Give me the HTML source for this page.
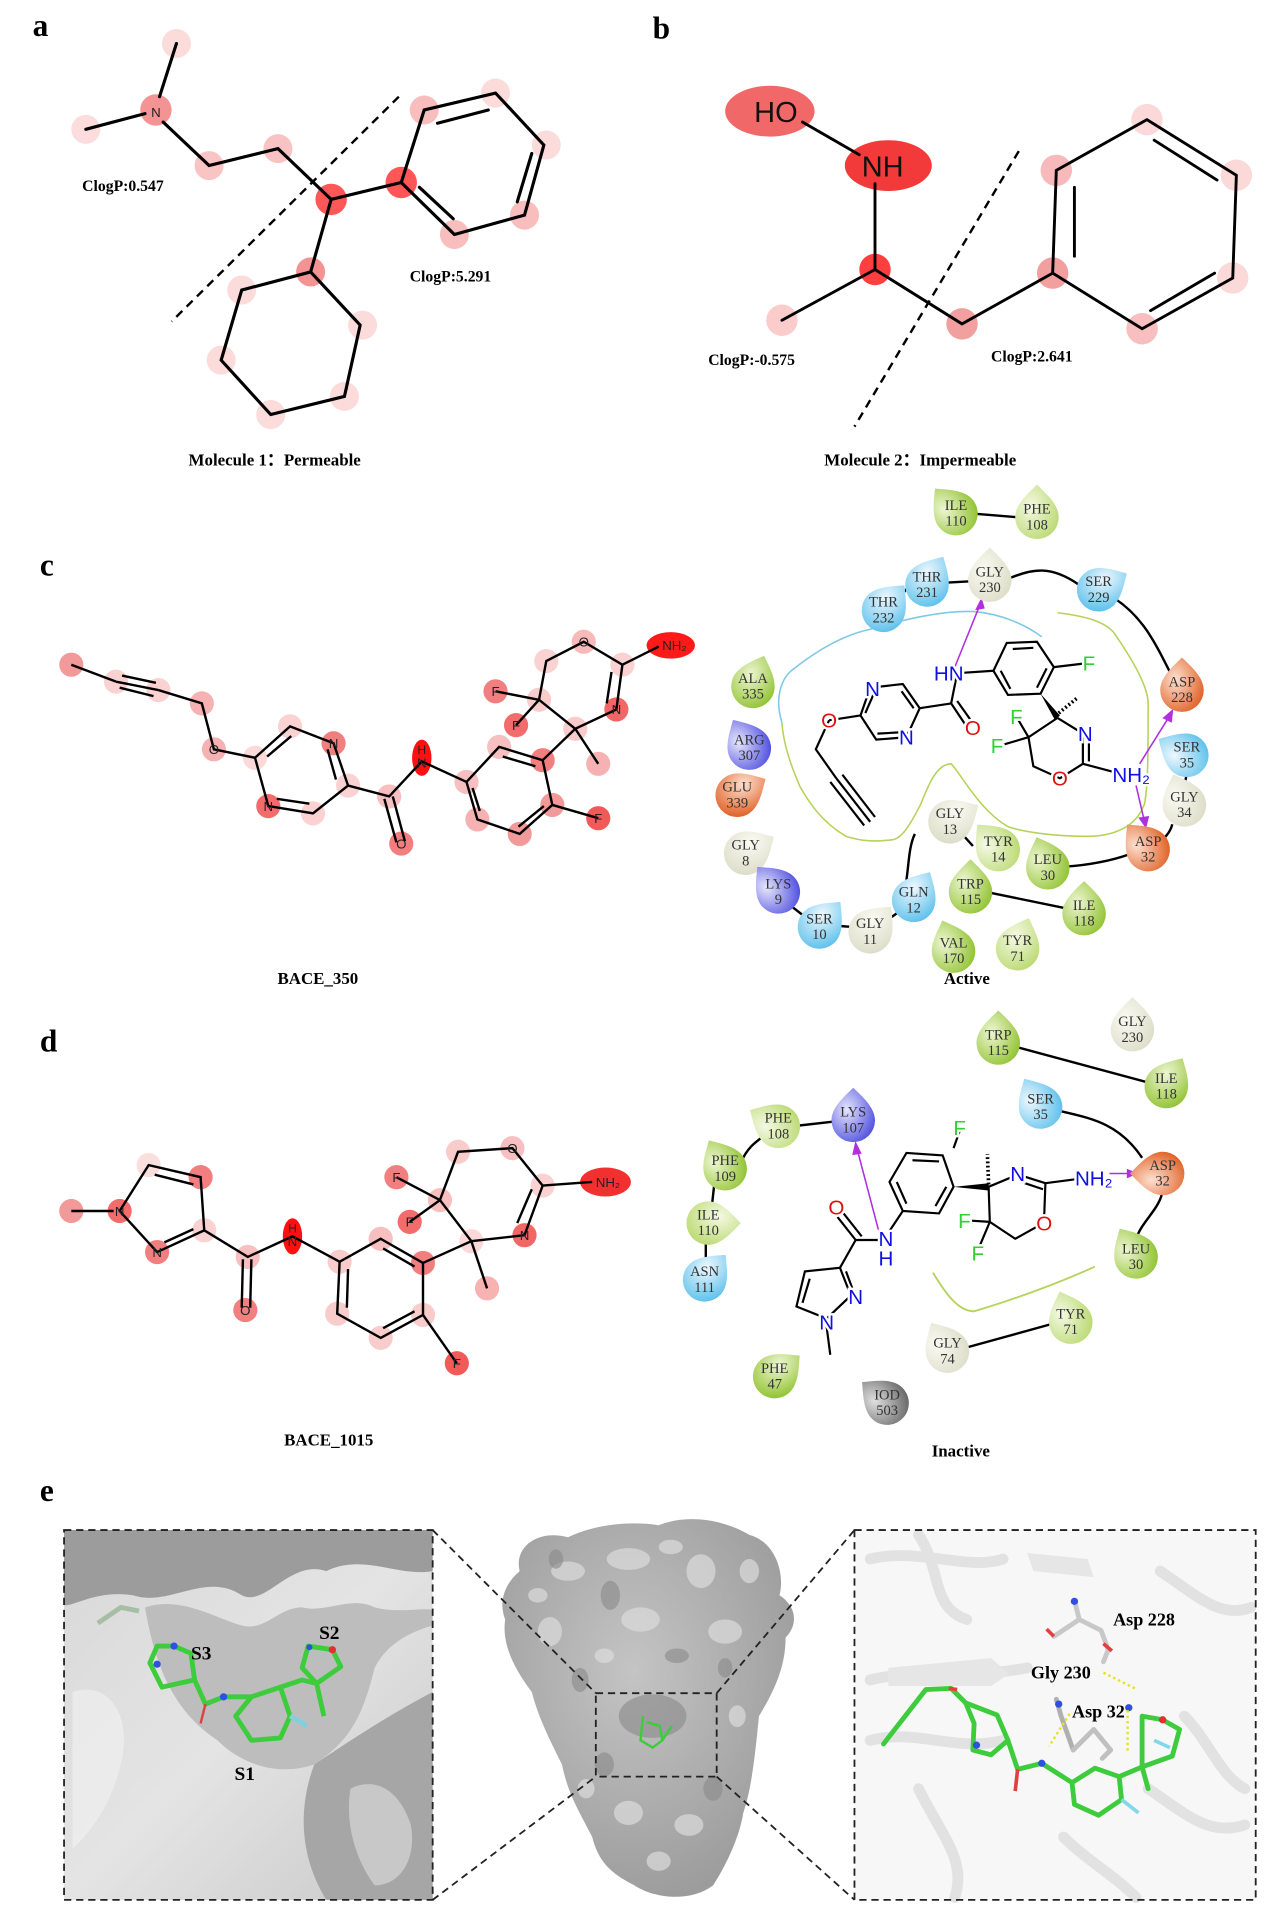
<!DOCTYPE html>
<html><head><meta charset="utf-8"><style>
html,body{margin:0;padding:0;background:#fff}
svg{display:block}
.lb{font-family:"Liberation Serif",serif;font-weight:bold;fill:#000}
.rs{font-family:"Liberation Serif",serif;font-size:12px;fill:#333;text-anchor:middle}
.at{font-family:"Liberation Sans",sans-serif;font-size:11px;fill:#222;text-anchor:middle}
.lg{font-family:"Liberation Sans",sans-serif;font-size:17px;text-anchor:middle;paint-order:stroke;stroke:#fff;stroke-width:4px}
</style></head><body>
<svg width="1269" height="1918" viewBox="0 0 1050 1587" preserveAspectRatio="none" xmlns="http://www.w3.org/2000/svg">
<defs>
<path id="td" d="M0,-27 C7,-20 18,-11 18,0 A18,18 0 1 1 -18,0 C-18,-11 -7,-20 0,-27Z"/>
<radialGradient id="gG" cx="0.35" cy="0.4" r="0.75"><stop offset="0" stop-color="#eef6d2"/><stop offset="1" stop-color="#8cc02a"/></radialGradient>
<radialGradient id="gL" cx="0.35" cy="0.4" r="0.75"><stop offset="0" stop-color="#f4f9e4"/><stop offset="1" stop-color="#b8d86c"/></radialGradient>
<radialGradient id="gW" cx="0.35" cy="0.4" r="0.75"><stop offset="0" stop-color="#fafaf2"/><stop offset="1" stop-color="#dadcc6"/></radialGradient>
<radialGradient id="gB" cx="0.35" cy="0.4" r="0.75"><stop offset="0" stop-color="#eef8fe"/><stop offset="1" stop-color="#55bdea"/></radialGradient>
<radialGradient id="gO" cx="0.35" cy="0.4" r="0.75"><stop offset="0" stop-color="#fde0d0"/><stop offset="1" stop-color="#de5a1c"/></radialGradient>
<radialGradient id="gP" cx="0.35" cy="0.4" r="0.75"><stop offset="0" stop-color="#e6e6fc"/><stop offset="1" stop-color="#4848de"/></radialGradient>
<radialGradient id="gK" cx="0.35" cy="0.4" r="0.75"><stop offset="0" stop-color="#e0e0e0"/><stop offset="1" stop-color="#606060"/></radialGradient>
<linearGradient id="lbox" x1="0" y1="0" x2="1" y2="1"><stop offset="0" stop-color="#d8d8d8"/><stop offset="0.5" stop-color="#e4e4e4"/><stop offset="1" stop-color="#c8c8c8"/></linearGradient>
<radialGradient id="blob" cx="0.45" cy="0.4" r="0.7"><stop offset="0" stop-color="#c4c4c4"/><stop offset="1" stop-color="#979797"/></radialGradient>
</defs>

<!-- ========== Panel a ========== -->
<text class="lb" x="27" y="30" font-size="26">a</text>
<g fill="#f4a0a0" opacity="0.75">
<circle cx="146" cy="36" r="12" fill="#fbd0d0"/><circle cx="71" cy="107" r="12" fill="#fbd0d0"/>
<circle cx="129" cy="91" r="13" fill="#f07070"/><circle cx="173" cy="137" r="12" fill="#f7b0b0"/>
<circle cx="230" cy="123" r="12" fill="#f7b0b0"/><circle cx="274" cy="165" r="13" fill="#ff2020"/>
<circle cx="332" cy="151" r="13" fill="#ff2020"/><circle cx="351" cy="91" r="12" fill="#f6a8a8"/>
<circle cx="410" cy="77" r="12" fill="#fbd0d0"/><circle cx="452" cy="120" r="12" fill="#fbd0d0"/>
<circle cx="434" cy="178" r="12" fill="#f6a8a8"/><circle cx="376" cy="194" r="12" fill="#f6a8a8"/>
<circle cx="257" cy="225" r="12" fill="#f07070"/><circle cx="200" cy="240" r="12" fill="#fbd0d0"/>
<circle cx="183" cy="298" r="12" fill="#fbd0d0"/><circle cx="224" cy="343" r="12" fill="#fbd0d0"/>
<circle cx="285" cy="328" r="12" fill="#fbd0d0"/><circle cx="300" cy="269" r="12" fill="#fbd0d0"/>
</g>
<g stroke="#000" stroke-width="2.6" fill="none" stroke-linecap="round">
<line x1="146" y1="36" x2="132" y2="80"/><line x1="71" y1="107" x2="120" y2="94"/>
<polyline points="135,101 173,137 230,123 274,165 332,151"/>
<polygon points="332,151 351,91 410,77 450,120 434,178 376,194"/>
<line x1="362" y1="102" x2="404" y2="91"/><line x1="440" y1="127" x2="428" y2="167"/><line x1="375" y1="181" x2="347" y2="155"/>
<line x1="274" y1="165" x2="257" y2="225"/>
<polygon points="257,225 200,240 183,298 224,343 285,328 298,269"/>
</g>
<text x="129" y="97" class="at" font-size="17">N</text>
<line x1="330" y1="80" x2="142" y2="266" stroke="#000" stroke-width="2" stroke-dasharray="7,5"/>
<text class="lb" x="68" y="158" font-size="13">ClogP:0.547</text>
<text class="lb" x="339" y="233" font-size="13">ClogP:5.291</text>
<text class="lb" x="156" y="385" font-size="14">Molecule 1：Permeable</text>

<!-- ========== Panel b ========== -->
<text class="lb" x="540" y="32" font-size="26">b</text>
<ellipse cx="637" cy="92" rx="37" ry="21" fill="#f06868"/>
<ellipse cx="735" cy="137" rx="36" ry="21" fill="#f23a3a"/>
<g opacity="0.8">
<circle cx="724" cy="223" r="13" fill="#ff1010"/><circle cx="647" cy="265" r="13" fill="#f9c0c0"/>
<circle cx="796" cy="268" r="13" fill="#f08888"/><circle cx="871" cy="226" r="13" fill="#f08888"/>
<circle cx="874" cy="141" r="13" fill="#f6a8a8"/><circle cx="949" cy="99" r="13" fill="#fbd0d0"/>
<circle cx="1023" cy="145" r="13" fill="#fbd0d0"/><circle cx="1020" cy="230" r="13" fill="#fbd0d0"/>
<circle cx="945" cy="272" r="13" fill="#f6b0b0"/>
</g>
<g stroke="#000" stroke-width="2.4" fill="none" stroke-linecap="round">
<line x1="664" y1="101" x2="711" y2="128"/>
<line x1="724" y1="152" x2="724" y2="223"/>
<polyline points="647,265 724,223 796,268 871,226"/>
<polygon points="871,226 874,141 949,99 1023,145 1020,230 945,272"/>
<line x1="889" y1="155" x2="889" y2="212"/><line x1="955" y1="116" x2="1007" y2="149"/><line x1="1005" y1="226" x2="952" y2="257"/>
</g>
<text x="624" y="101" font-family="Liberation Sans,sans-serif" font-size="24" fill="#111">HO</text>
<text x="713" y="146" font-family="Liberation Sans,sans-serif" font-size="24" fill="#111">NH</text>
<line x1="843" y1="125" x2="707" y2="353" stroke="#000" stroke-width="2" stroke-dasharray="7,5"/>
<text class="lb" x="586" y="302" font-size="13">ClogP:-0.575</text>
<text class="lb" x="820" y="299" font-size="13">ClogP:2.641</text>
<text class="lb" x="682" y="385" font-size="14">Molecule 2：Impermeable</text>

<!-- ========== Panel c left ========== -->
<text class="lb" x="33" y="476" font-size="26">c</text>
<g opacity="0.8">
<circle cx="59" cy="550" r="10" fill="#f08080"/><circle cx="96" cy="564" r="10" fill="#fbc8c8"/>
<circle cx="131" cy="571" r="10" fill="#fbc8c8"/><circle cx="167" cy="582" r="10" fill="#f4a0a0"/>
<circle cx="177" cy="620" r="10" fill="#f4a0a0"/><circle cx="211" cy="627" r="10" fill="#fbd0d0"/>
<circle cx="240" cy="601" r="10" fill="#fbc8c8"/><circle cx="276" cy="615" r="10" fill="#f06060"/>
<circle cx="288" cy="650" r="10" fill="#fbc8c8"/><circle cx="259" cy="673" r="10" fill="#fbc8c8"/>
<circle cx="222" cy="667" r="10" fill="#f04848"/><circle cx="322" cy="659" r="10" fill="#f6b0b0"/>
<circle cx="332" cy="698" r="10" fill="#f06060"/>
<circle cx="386" cy="647" r="10" fill="#f6b0b0"/><circle cx="413" cy="618" r="10" fill="#f6b0b0"/>
<circle cx="449" cy="629" r="10" fill="#f06060"/><circle cx="457" cy="666" r="10" fill="#f08080"/>
<circle cx="430" cy="690" r="10" fill="#f08080"/><circle cx="395" cy="678" r="10" fill="#f4a0a0"/>
<circle cx="495" cy="677" r="10" fill="#f03030"/><circle cx="476" cy="603" r="10" fill="#f8c0c0"/>
<circle cx="495" cy="632" r="10" fill="#f4a0a0"/><circle cx="510" cy="587" r="10" fill="#f04040"/>
<circle cx="515" cy="550" r="10" fill="#fbc8c8"/><circle cx="483" cy="531" r="10" fill="#f6a8a8"/>
<circle cx="452" cy="547" r="10" fill="#fbc8c8"/><circle cx="446" cy="579" r="10" fill="#f8c0c0"/>
<circle cx="410" cy="572" r="10" fill="#f06060"/><circle cx="427" cy="600" r="10" fill="#f04848"/>
</g>
<ellipse cx="349" cy="627" rx="8" ry="15" fill="#ff1010"/>
<ellipse cx="555" cy="534" rx="20" ry="11" fill="#ff1a1a"/>
<g stroke="#000" stroke-width="2" fill="none">
<line x1="59" y1="550" x2="96" y2="564"/><line x1="96" y1="564" x2="131" y2="571"/>
<line x1="101" y1="559" x2="129" y2="565"/><line x1="99" y1="569" x2="127" y2="576"/>
<polyline points="131,571 167,582 177,620 211,627"/>
<polygon points="211,627 240,601 276,615 288,650 259,673 222,667"/>
<line x1="221" y1="626" x2="241" y2="609"/><line x1="271" y1="620" x2="278" y2="645"/><line x1="256" y1="665" x2="229" y2="661"/>
<polyline points="288,650 322,659 349,630 386,647"/>
<line x1="318" y1="661" x2="328" y2="697"/><line x1="325" y1="659" x2="335" y2="696"/>
<polygon points="386,647 413,618 449,629 457,666 430,690 395,678"/>
<line x1="416" y1="626" x2="443" y2="634"/><line x1="450" y1="667" x2="429" y2="684"/><line x1="397" y1="671" x2="391" y2="652"/>
<line x1="457" y1="666" x2="495" y2="677"/>
<polyline points="449,629 476,603 510,587 515,550 483,531 452,547 446,579 476,603 495,632"/>
<line x1="506" y1="556" x2="502" y2="582"/>
<line x1="515" y1="550" x2="545" y2="535"/>
<line x1="446" y1="579" x2="410" y2="572"/><line x1="446" y1="579" x2="427" y2="600"/>
</g>
<g class="at"><text x="177" y="624">O</text><text x="276" y="619">N</text><text x="222" y="671">N</text><text x="332" y="702">O</text>
<text x="349" y="624" font-size="10">H</text><text x="349" y="635">N</text><text x="495" y="681">F</text><text x="510" y="591">N</text>
<text x="483" y="535">O</text><text x="410" y="576">F</text><text x="427" y="604">F</text><text x="558" y="538">NH₂</text></g>
<text class="lb" x="263" y="814" font-size="14" text-anchor="middle">BACE_350</text>

<!-- ========== Panel c right ========== -->
<path d="M647,598 C640,575 648,560 656,554 C680,535 700,525 719,521 C750,512 780,505 806,506 C830,508 850,518 862,527" fill="none" stroke="#7fc8e8" stroke-width="1.3"/>
<path d="M875,507 C900,510 915,515 922,524 C940,550 950,570 950,582 C950,620 950,650 947,665 C940,685 920,692 900,692 C870,692 845,688 834,684 C810,670 795,640 787,632 C775,632 768,650 762,665 C752,685 745,695 737,695 C720,697 710,695 700,692 C680,680 670,665 662,651 C655,635 648,615 647,598" fill="none" stroke="#b5d35a" stroke-width="1.3"/>
<g stroke="#000" stroke-width="2" fill="none">
<line x1="806" y1="425" x2="842" y2="428"/>
<line x1="740" y1="500" x2="752" y2="485"/><line x1="784" y1="482" x2="803" y2="481"/>
<path d="M834,479 C855,470 870,468 893,484"/>
<path d="M922,495 C945,510 955,530 970,560"/>
<line x1="982" y1="640" x2="980" y2="650"/>
<path d="M970,682 C968,690 962,695 958,697"/>
<path d="M882,717 C900,716 920,712 934,707"/>
<line x1="625" y1="716" x2="634" y2="724"/><line x1="655" y1="750" x2="664" y2="757"/>
<line x1="692" y1="766" x2="705" y2="767"/><line x1="736" y1="760" x2="743" y2="755"/>
<path d="M750,728 C752,715 752,700 757,690"/><line x1="796" y1="690" x2="805" y2="700"/>
<line x1="816" y1="738" x2="884" y2="752"/>
</g>
<g stroke="#b030e0" stroke-width="1.3" fill="#b030e0">
<line x1="790" y1="552" x2="811" y2="500"/><polygon points="812,496 808,504 814,503"/>
<line x1="943" y1="632" x2="968" y2="592"/><polygon points="970,588 963,594 969,597"/>
<line x1="940" y1="650" x2="947" y2="680"/><polygon points="948,684 943,677 950,676"/>
</g>
<g stroke="#000" stroke-width="1.8" fill="none">
<polygon points="720,569 747,566 761,586 750,610 725,612 712,592"/>
<line x1="746" y1="572" x2="756" y2="586"/><line x1="744" y1="606" x2="726" y2="607"/><line x1="716" y1="590" x2="723" y2="574"/>
<line x1="712" y1="592" x2="686" y2="596"/><polyline points="686,596 675,620 692,644"/>
<line x1="692" y1="644" x2="720" y2="680"/><line x1="697" y1="641" x2="724" y2="676"/><line x1="687" y1="647" x2="715" y2="683"/>
<line x1="761" y1="586" x2="787" y2="582"/><line x1="787" y1="582" x2="799" y2="600"/><line x1="792" y1="580" x2="804" y2="597"/>
<line x1="787" y1="582" x2="792" y2="557"/><line x1="792" y1="557" x2="822" y2="555"/>
<polygon points="822,555 833,532 858,531 872,552 861,574 834,575"/>
<line x1="838" y1="537" x2="855" y2="536"/><line x1="866" y1="553" x2="858" y2="569"/><line x1="828" y1="555" x2="836" y2="570"/>
<line x1="872" y1="552" x2="897" y2="549"/>
<line x1="875" y1="594" x2="896" y2="607"/><line x1="896" y1="607" x2="896" y2="632"/><line x1="901" y1="610" x2="901" y2="630"/>
<line x1="896" y1="632" x2="930" y2="641"/><polyline points="896,632 877,644 855,634 851,610 875,594"/>
<line x1="851" y1="610" x2="841" y2="593"/><line x1="851" y1="610" x2="827" y2="617"/>
<line x1="876" y1="590" x2="892" y2="577" stroke-dasharray="1.5,2" stroke-width="3"/>
</g>
<polygon points="861,574 877,592 873,596" fill="#000"/>
<g class="lg"><text x="722" y="576" fill="#1010e0">N</text><text x="750" y="616" fill="#1010e0">N</text>
<text x="686" y="602" fill="#e01010">O</text><text x="805" y="608" fill="#e01010">O</text>
<text x="785" y="563" fill="#1010e0">HN</text><text x="901" y="555" fill="#30d030">F</text>
<text x="898" y="613" fill="#1010e0">N</text><text x="877" y="650" fill="#e01010">O</text>
<text x="936" y="647" fill="#1010e0">NH₂</text><text x="841" y="599" fill="#30d030">F</text><text x="825" y="623" fill="#30d030">F</text></g>

<g><use href="#td" fill="url(#gG)" transform="translate(791,425) rotate(-40)"/><text class="rs" x="791" y="422">ILE</text><text class="rs" x="791" y="435">110</text></g>
<g><use href="#td" fill="url(#gL)" transform="translate(858,428)"/><text class="rs" x="858" y="425">PHE</text><text class="rs" x="858" y="438">108</text></g>
<g><use href="#td" fill="url(#gB)" transform="translate(767,484) rotate(30)"/><text class="rs" x="767" y="481">THR</text><text class="rs" x="767" y="494">231</text></g>
<g><use href="#td" fill="url(#gW)" transform="translate(819,480)"/><text class="rs" x="819" y="477">GLY</text><text class="rs" x="819" y="490">230</text></g>
<g><use href="#td" fill="url(#gB)" transform="translate(731,505) rotate(40)"/><text class="rs" x="731" y="502">THR</text><text class="rs" x="731" y="515">232</text></g>
<g><use href="#td" fill="url(#gB)" transform="translate(909,488) rotate(60)"/><text class="rs" x="909" y="485">SER</text><text class="rs" x="909" y="498">229</text></g>
<g><use href="#td" fill="url(#gO)" transform="translate(978,571)"/><text class="rs" x="978" y="568">ASP</text><text class="rs" x="978" y="581">228</text></g>
<g><use href="#td" fill="url(#gG)" transform="translate(623,568) rotate(20)"/><text class="rs" x="623" y="565">ALA</text><text class="rs" x="623" y="578">335</text></g>
<g><use href="#td" fill="url(#gP)" transform="translate(620,619) rotate(-30)"/><text class="rs" x="620" y="616">ARG</text><text class="rs" x="620" y="629">307</text></g>
<g><use href="#td" fill="url(#gO)" transform="translate(610,658) rotate(60)"/><text class="rs" x="610" y="655">GLU</text><text class="rs" x="610" y="668">339</text></g>
<g><use href="#td" fill="url(#gB)" transform="translate(982,625) rotate(-60)"/><text class="rs" x="982" y="622">SER</text><text class="rs" x="982" y="635">35</text></g>
<g><use href="#td" fill="url(#gW)" transform="translate(980,666) rotate(-20)"/><text class="rs" x="980" y="663">GLY</text><text class="rs" x="980" y="676">34</text></g>
<g><use href="#td" fill="url(#gO)" transform="translate(950,703) rotate(-40)"/><text class="rs" x="950" y="700">ASP</text><text class="rs" x="950" y="713">32</text></g>
<g><use href="#td" fill="url(#gW)" transform="translate(786,680) rotate(60)"/><text class="rs" x="786" y="677">GLY</text><text class="rs" x="786" y="690">13</text></g>
<g><use href="#td" fill="url(#gL)" transform="translate(826,703) rotate(-40)"/><text class="rs" x="826" y="700">TYR</text><text class="rs" x="826" y="713">14</text></g>
<g><use href="#td" fill="url(#gG)" transform="translate(867,718) rotate(-20)"/><text class="rs" x="867" y="715">LEU</text><text class="rs" x="867" y="728">30</text></g>
<g><use href="#td" fill="url(#gW)" transform="translate(617,706) rotate(60)"/><text class="rs" x="617" y="703">GLY</text><text class="rs" x="617" y="716">8</text></g>
<g><use href="#td" fill="url(#gP)" transform="translate(644,738) rotate(-40)"/><text class="rs" x="644" y="735">LYS</text><text class="rs" x="644" y="748">9</text></g>
<g><use href="#td" fill="url(#gB)" transform="translate(678,767) rotate(40)"/><text class="rs" x="678" y="764">SER</text><text class="rs" x="678" y="777">10</text></g>
<g><use href="#td" fill="url(#gW)" transform="translate(720,771) rotate(40)"/><text class="rs" x="720" y="768">GLY</text><text class="rs" x="720" y="781">11</text></g>
<g><use href="#td" fill="url(#gB)" transform="translate(756,745) rotate(30)"/><text class="rs" x="756" y="742">GLN</text><text class="rs" x="756" y="755">12</text></g>
<g><use href="#td" fill="url(#gG)" transform="translate(803,738)"/><text class="rs" x="803" y="735">TRP</text><text class="rs" x="803" y="748">115</text></g>
<g><use href="#td" fill="url(#gG)" transform="translate(897,756)"/><text class="rs" x="897" y="753">ILE</text><text class="rs" x="897" y="766">118</text></g>
<g><use href="#td" fill="url(#gG)" transform="translate(789,787) rotate(-20)"/><text class="rs" x="789" y="784">VAL</text><text class="rs" x="789" y="797">170</text></g>
<g><use href="#td" fill="url(#gL)" transform="translate(842,785) rotate(20)"/><text class="rs" x="842" y="782">TYR</text><text class="rs" x="842" y="795">71</text></g>
<text class="lb" x="800" y="814" font-size="14" text-anchor="middle">Active</text>

<!-- ========== Panel d left ========== -->
<text class="lb" x="33" y="870" font-size="26">d</text>
<g opacity="0.8">
<circle cx="59" cy="1002" r="10" fill="#f08080"/><circle cx="99" cy="1002" r="10" fill="#f04848"/>
<circle cx="130" cy="1036" r="10" fill="#f06060"/><circle cx="169" cy="1018" r="10" fill="#fbc8c8"/>
<circle cx="166" cy="974" r="10" fill="#f06060"/><circle cx="123" cy="964" r="10" fill="#fbd8d8"/>
<circle cx="205" cy="1040" r="10" fill="#f6b0b0"/><circle cx="203" cy="1084" r="10" fill="#f06060"/>
<circle cx="281" cy="1044" r="10" fill="#f8c0c0"/><circle cx="315" cy="1025" r="10" fill="#f6b0b0"/>
<circle cx="350" cy="1045" r="10" fill="#f06060"/><circle cx="350" cy="1088" r="10" fill="#f8c0c0"/>
<circle cx="315" cy="1107" r="10" fill="#f8c0c0"/><circle cx="279" cy="1087" r="10" fill="#f8c0c0"/>
<circle cx="378" cy="1128" r="10" fill="#f03030"/><circle cx="390" cy="1027" r="10" fill="#fbd0d0"/>
<circle cx="403" cy="1066" r="10" fill="#f6a0a0"/><circle cx="434" cy="1022" r="10" fill="#f04040"/>
<circle cx="449" cy="981" r="10" fill="#fbc8c8"/><circle cx="424" cy="950" r="10" fill="#f6b0b0"/>
<circle cx="379" cy="953" r="10" fill="#f8c0c0"/><circle cx="364" cy="993" r="10" fill="#f6b0b0"/>
<circle cx="328" cy="974" r="10" fill="#f06060"/><circle cx="339" cy="1011" r="10" fill="#f04848"/>
</g>
<ellipse cx="242" cy="1023" rx="8" ry="15" fill="#ff1010"/>
<ellipse cx="501" cy="978" rx="21" ry="12" fill="#f23030"/>
<g stroke="#000" stroke-width="2" fill="none">
<line x1="59" y1="1002" x2="94" y2="1002"/>
<polygon points="99,1002 130,1036 169,1018 166,974 123,964"/>
<line x1="136" y1="1028" x2="160" y2="1017"/><line x1="128" y1="972" x2="160" y2="980"/>
<polyline points="169,1018 205,1040 242,1023 281,1044"/>
<line x1="201" y1="1042" x2="200" y2="1082"/><line x1="208" y1="1042" x2="207" y2="1082"/>
<polygon points="281,1044 315,1025 350,1045 350,1088 315,1107 279,1087"/>
<line x1="317" y1="1033" x2="343" y2="1048"/><line x1="343" y1="1085" x2="317" y2="1099"/><line x1="287" y1="1082" x2="288" y2="1050"/>
<line x1="350" y1="1088" x2="378" y2="1128"/>
<polyline points="350,1045 390,1027 434,1022 449,981 424,950 379,953 364,993 390,1027 403,1066"/>
<line x1="428" y1="1012" x2="440" y2="984"/>
<line x1="449" y1="981" x2="490" y2="978"/>
<line x1="364" y1="993" x2="328" y2="974"/><line x1="364" y1="993" x2="339" y2="1011"/>
</g>
<g class="at"><text x="99" y="1006">N</text><text x="130" y="1040">N</text><text x="203" y="1088">O</text>
<text x="242" y="1020" font-size="10">H</text><text x="242" y="1031">N</text><text x="378" y="1132">F</text>
<text x="434" y="1026">N</text><text x="424" y="954">O</text><text x="328" y="978">F</text><text x="339" y="1015">F</text><text x="503" y="982">NH₂</text></g>
<text class="lb" x="272" y="1196" font-size="14" text-anchor="middle">BACE_1015</text>

<!-- ========== Panel d right ========== -->
<path d="M772,1053 C785,1075 795,1085 806,1085 C840,1075 880,1060 906,1048" fill="none" stroke="#b5d35a" stroke-width="1.5"/>
<g stroke="#000" stroke-width="2" fill="none">
<line x1="840" y1="866" x2="955" y2="897"/>
<path d="M876,919 C900,925 925,928 945,958"/>
<path d="M962,985 C960,1000 945,1010 940,1025"/>
<line x1="655" y1="932" x2="690" y2="928"/><path d="M613,962 C618,950 625,945 632,940"/>
<line x1="591" y1="980" x2="589" y2="998"/><line x1="584" y1="1025" x2="584" y2="1045"/>
<line x1="796" y1="1116" x2="872" y2="1095"/>
</g>
<g stroke="#b030e0" stroke-width="1.3" fill="#b030e0">
<line x1="728" y1="1022" x2="709" y2="950"/><polygon points="708,946 706,955 712,954"/>
<line x1="918" y1="971" x2="936" y2="971"/><polygon points="940,971 933,968 933,974"/>
</g>
<g stroke="#000" stroke-width="1.8" fill="none">
<line x1="794" y1="936" x2="789" y2="950"/>
<polygon points="750,954 780,956 789,982 777,1004 747,1002 736,978"/>
<line x1="755" y1="960" x2="777" y2="961"/><line x1="783" y1="982" x2="774" y2="998"/><line x1="742" y1="978" x2="750" y2="996"/>
<line x1="747" y1="1002" x2="735" y2="1020"/>
<line x1="730" y1="1026" x2="708" y2="1026"/>
<line x1="708" y1="1026" x2="693" y2="1007"/><line x1="713" y1="1023" x2="698" y2="1004"/>
<line x1="708" y1="1026" x2="695" y2="1049"/>
<polygon points="695,1049 704,1072 684,1091 659,1081 666,1052"/>
<line x1="700" y1="1052" x2="706" y2="1068"/><line x1="670" y1="1058" x2="664" y2="1078"/>
<line x1="684" y1="1098" x2="687" y2="1121"/>
<line x1="818" y1="982" x2="842" y2="972"/><line x1="846" y1="973" x2="865" y2="979"/><line x1="848" y1="979" x2="863" y2="984"/>
<line x1="865" y1="979" x2="896" y2="975"/><line x1="865" y1="979" x2="864" y2="1006"/>
<polyline points="858,1015 840,1025 819,1011 818,982"/>
<line x1="819" y1="1011" x2="804" y2="1010"/><line x1="819" y1="1011" x2="811" y2="1030"/>
<line x1="818" y1="980" x2="817" y2="955" stroke-dasharray="1.5,2" stroke-width="3"/>
</g>
<polygon points="789,982 818,979 818,985" fill="#000"/>
<g class="lg"><text x="794" y="939" fill="#30d030">F</text><text x="692" y="1005" fill="#e01010">O</text>
<text x="733" y="1031" fill="#1010e0">N</text><text x="733" y="1047" fill="#1010e0">H</text>
<text x="708" y="1079" fill="#1010e0">N</text><text x="684" y="1100" fill="#1010e0">N</text>
<text x="842" y="977" fill="#1010e0">N</text><text x="905" y="981" fill="#1010e0">NH₂</text>
<text x="864" y="1018" fill="#e01010">O</text><text x="798" y="1016" fill="#30d030">F</text><text x="809" y="1043" fill="#30d030">F</text></g>

<g><use href="#td" fill="url(#gG)" transform="translate(826,863)"/><text class="rs" x="826" y="860">TRP</text><text class="rs" x="826" y="873">115</text></g>
<g><use href="#td" fill="url(#gW)" transform="translate(937,852)"/><text class="rs" x="937" y="849">GLY</text><text class="rs" x="937" y="862">230</text></g>
<g><use href="#td" fill="url(#gG)" transform="translate(965,899) rotate(30)"/><text class="rs" x="965" y="896">ILE</text><text class="rs" x="965" y="909">118</text></g>
<g><use href="#td" fill="url(#gB)" transform="translate(861,916) rotate(-30)"/><text class="rs" x="861" y="913">SER</text><text class="rs" x="861" y="926">35</text></g>
<g><use href="#td" fill="url(#gO)" transform="translate(962,971) rotate(-90)"/><text class="rs" x="962" y="968">ASP</text><text class="rs" x="962" y="981">32</text></g>
<g><use href="#td" fill="url(#gG)" transform="translate(940,1040) rotate(-30)"/><text class="rs" x="940" y="1037">LEU</text><text class="rs" x="940" y="1050">30</text></g>
<g><use href="#td" fill="url(#gP)" transform="translate(706,927)"/><text class="rs" x="706" y="924">LYS</text><text class="rs" x="706" y="937">107</text></g>
<g><use href="#td" fill="url(#gL)" transform="translate(644,932) rotate(-60)"/><text class="rs" x="644" y="929">PHE</text><text class="rs" x="644" y="942">108</text></g>
<g><use href="#td" fill="url(#gG)" transform="translate(600,967) rotate(-30)"/><text class="rs" x="600" y="964">PHE</text><text class="rs" x="600" y="977">109</text></g>
<g><use href="#td" fill="url(#gL)" transform="translate(586,1012) rotate(90)"/><text class="rs" x="586" y="1009">ILE</text><text class="rs" x="586" y="1022">110</text></g>
<g><use href="#td" fill="url(#gB)" transform="translate(583,1059) rotate(40)"/><text class="rs" x="583" y="1056">ASN</text><text class="rs" x="583" y="1069">111</text></g>
<g><use href="#td" fill="url(#gG)" transform="translate(641,1139) rotate(50)"/><text class="rs" x="641" y="1136">PHE</text><text class="rs" x="641" y="1149">47</text></g>
<g><use href="#td" fill="url(#gK)" transform="translate(734,1161) rotate(-50)"/><text class="rs" x="734" y="1158" fill="#222">IOD</text><text class="rs" x="734" y="1171" fill="#222">503</text></g>
<g><use href="#td" fill="url(#gW)" transform="translate(784,1118) rotate(-30)"/><text class="rs" x="784" y="1115">GLY</text><text class="rs" x="784" y="1128">74</text></g>
<g><use href="#td" fill="url(#gL)" transform="translate(886,1094) rotate(-20)"/><text class="rs" x="886" y="1091">TYR</text><text class="rs" x="886" y="1104">71</text></g>
<text class="lb" x="795" y="1205" font-size="14" text-anchor="middle">Inactive</text>

<!-- ========== Panel e ========== -->
<text class="lb" x="33" y="1242" font-size="26">e</text>
<rect x="53" y="1266" width="305" height="306" fill="url(#lbox)"/>
<path d="M53,1266 L358,1266 L358,1300 C330,1305 300,1285 270,1300 C240,1290 220,1330 200,1320 C170,1300 140,1330 110,1320 C80,1315 60,1330 53,1328Z" fill="#9c9c9c"/>
<path d="M120,1330 C150,1320 180,1340 200,1345 C220,1350 230,1330 250,1330 C270,1335 290,1320 310,1330 C330,1335 350,1330 358,1332 L358,1345 C340,1350 320,1360 310,1380 C300,1420 290,1440 260,1460 C230,1470 200,1460 180,1440 C150,1420 130,1390 120,1330Z" fill="#bdbdbd"/>
<path d="M260,1460 C290,1440 320,1420 358,1400 L358,1572 L270,1572 C250,1540 245,1500 260,1460Z" fill="#a6a6a6"/>
<path d="M290,1480 C310,1470 330,1480 340,1510 C345,1540 330,1560 310,1560 C295,1540 285,1510 290,1480Z" fill="#c8c8c8"/>
<path d="M60,1400 C90,1390 110,1420 100,1460 C90,1500 70,1520 60,1530Z" fill="#f2f2f2" opacity="0.6"/>
<polyline points="81,1343 100,1330 115,1333" fill="none" stroke="#6fa070" stroke-width="4" opacity="0.5"/>
<g fill="none" stroke-width="4" stroke-linejoin="round">
<polygon points="144,1362 158,1368 161,1390 134,1396 124,1376 130,1362" stroke="#3ccc3c"/>
<polyline points="161,1390 170,1410 185,1404 208,1404" stroke="#3ccc3c"/>
<polygon points="208,1404 232,1396 240,1420 232,1438 208,1440 195,1420" stroke="#3ccc3c"/>
<polyline points="232,1396 250,1390 262,1393 282,1379 275,1365 255,1362 250,1380 262,1393 268,1420" stroke="#3ccc3c"/>
<line x1="170" y1="1410" x2="166" y2="1426" stroke="#e04040" stroke-width="2"/>
<line x1="240" y1="1420" x2="254" y2="1428" stroke="#80d0e0"/>
</g>
<circle cx="130" cy="1377" r="3" fill="#3050e0"/><circle cx="144" cy="1362" r="3" fill="#3050e0"/><circle cx="185" cy="1404" r="3" fill="#3050e0"/>
<circle cx="256" cy="1363" r="2.5" fill="#3050e0"/><circle cx="275" cy="1365" r="3" fill="#e03030"/>
<text class="lb" x="158" y="1373" font-size="16">S3</text>
<text class="lb" x="264" y="1356" font-size="16">S2</text>
<text class="lb" x="194" y="1473" font-size="16">S1</text>
<rect x="53" y="1266" width="305" height="306" fill="none" stroke="#222" stroke-width="1.5" stroke-dasharray="6,4"/>

<path d="M430,1300 C425,1280 445,1265 470,1272 C490,1262 520,1258 545,1262 C570,1252 600,1258 620,1270 C640,1275 650,1300 645,1320 C660,1330 660,1345 650,1355 C650,1380 640,1400 628,1420 C625,1450 622,1480 615,1500 C612,1520 600,1545 590,1560 C570,1575 540,1570 525,1560 C505,1550 495,1540 490,1520 C480,1500 470,1485 465,1460 C455,1440 445,1420 440,1400 C425,1380 415,1360 418,1340 C412,1325 418,1310 430,1300Z" fill="url(#blob)"/>
<g fill="#dcdcdc" opacity="0.7">
<ellipse cx="470" cy="1300" rx="14" ry="8"/><ellipse cx="520" cy="1290" rx="18" ry="9"/><ellipse cx="580" cy="1300" rx="12" ry="14"/>
<ellipse cx="455" cy="1350" rx="10" ry="12"/><ellipse cx="600" cy="1350" rx="14" ry="10"/><ellipse cx="530" cy="1340" rx="16" ry="10"/>
<ellipse cx="520" cy="1500" rx="12" ry="10"/><ellipse cx="570" cy="1510" rx="12" ry="9"/><ellipse cx="545" cy="1540" rx="10" ry="8"/>
<ellipse cx="620" cy="1300" rx="8" ry="10"/><ellipse cx="445" cy="1320" rx="8" ry="6"/><ellipse cx="555" cy="1280" rx="10" ry="6"/>
<ellipse cx="500" cy="1370" rx="8" ry="6"/><ellipse cx="610" cy="1420" rx="7" ry="9"/><ellipse cx="485" cy="1480" rx="7" ry="8"/>
</g>
<g fill="#8a8a8a" opacity="0.6">
<ellipse cx="505" cy="1320" rx="8" ry="12"/><ellipse cx="560" cy="1370" rx="10" ry="6"/><ellipse cx="480" cy="1390" rx="7" ry="10"/>
<ellipse cx="500" cy="1460" rx="8" ry="10"/><ellipse cx="590" cy="1480" rx="8" ry="10"/><ellipse cx="540" cy="1420" rx="28" ry="18"/>
<ellipse cx="460" cy="1290" rx="6" ry="8"/><ellipse cx="600" cy="1380" rx="6" ry="8"/>
</g>
<g stroke="#3ccc3c" stroke-width="2" fill="none"><polyline points="532,1420 530,1440 540,1446 548,1440 546,1428 535,1425"/><line x1="548" y1="1440" x2="556" y2="1428"/></g>
<rect x="493" y="1401" width="100" height="69" fill="none" stroke="#222" stroke-width="1.5" stroke-dasharray="6,4"/>
<g stroke="#222" stroke-width="1.5" stroke-dasharray="6,4">
<line x1="358" y1="1266" x2="493" y2="1401"/><line x1="358" y1="1572" x2="493" y2="1470"/>
<line x1="593" y1="1401" x2="707" y2="1266"/><line x1="593" y1="1470" x2="707" y2="1572"/>
</g>

<rect x="707" y="1266" width="332" height="306" fill="#f7f7f7"/>
<g fill="none" stroke="#e2e2e2" stroke-width="9" stroke-linecap="round">
<path d="M720,1290 C760,1280 800,1300 830,1290"/><path d="M760,1270 C780,1300 770,1330 800,1340"/>
<path d="M720,1390 C760,1380 800,1390 850,1380"/><path d="M720,1440 C760,1430 790,1450 830,1440"/>
<path d="M760,1480 C780,1520 800,1540 790,1570"/><path d="M950,1480 C980,1500 1000,1520 1030,1510"/>
<path d="M960,1300 C990,1320 1010,1340 1035,1330"/><path d="M980,1420 C1000,1440 1010,1470 1030,1480"/>
<path d="M880,1520 C900,1540 920,1550 940,1570"/>
</g>
<g fill="#e6e6e6"><polygon points="735,1380 820,1372 835,1385 820,1395 735,1395"/><polygon points="850,1285 900,1290 905,1305 855,1300"/></g>
<g fill="none" stroke-width="4" stroke-linejoin="round" stroke-linecap="round">
<polyline points="889,1324 893,1340 911,1349 917,1365 913,1375" stroke="#c8c8c8"/>
<line x1="893" y1="1340" x2="872" y2="1354" stroke="#c8c8c8"/>
<polyline points="874,1406 878,1420 888,1448" stroke="#b0b0b0"/>
<polyline points="888,1448 905,1431 919,1448 912,1455" stroke="#c0c0c0"/>
<polyline points="731,1443 766,1398 787,1397 799,1409" stroke="#3ccc3c"/>
<polygon points="799,1409 825,1419 834,1440 820,1452 805,1448 806,1426" stroke="#3ccc3c"/>
<polyline points="834,1440 842,1464 862,1459 887,1475" stroke="#3ccc3c"/>
<polygon points="887,1475 906,1463 926,1470 928,1489 909,1502 889,1493" stroke="#3ccc3c"/>
<polyline points="926,1470 945,1462 945,1420 962,1423 976,1431 970,1453 945,1462 950,1480" stroke="#3ccc3c"/>
</g>
<g stroke-width="3">
<line x1="842" y1="1464" x2="840" y2="1482" stroke="#e04040"/>
<line x1="928" y1="1489" x2="942" y2="1500" stroke="#80d8e8"/>
<line x1="955" y1="1440" x2="968" y2="1446" stroke="#80d8e8"/>
<line x1="785" y1="1397" x2="792" y2="1398" stroke="#e04040"/>
<line x1="913" y1="1360" x2="920" y2="1366" stroke="#e04040"/>
<line x1="872" y1="1354" x2="866" y2="1348" stroke="#e04040"/>
</g>
<circle cx="889" cy="1325" r="3" fill="#3050e0"/><circle cx="934" cy="1413" r="3" fill="#3050e0"/><circle cx="862" cy="1459" r="3" fill="#3050e0"/>
<circle cx="808" cy="1444" r="3" fill="#3050e0"/><circle cx="962" cy="1423" r="3" fill="#e03030"/><circle cx="876" cy="1410" r="3" fill="#3050e0"/>
<g stroke="#e8e020" stroke-width="2" stroke-dasharray="2,2.5">
<line x1="913" y1="1384" x2="941" y2="1398"/><line x1="885" y1="1418" x2="868" y2="1445"/><line x1="933" y1="1415" x2="933" y2="1451"/>
</g>
<text class="lb" x="921" y="1345" font-size="15">Asp 228</text>
<text class="lb" x="853" y="1389" font-size="15">Gly 230</text>
<text class="lb" x="887" y="1421" font-size="15">Asp 32</text>
<rect x="707" y="1266" width="332" height="306" fill="none" stroke="#222" stroke-width="1.5" stroke-dasharray="6,4"/>
</svg>
</body></html>
